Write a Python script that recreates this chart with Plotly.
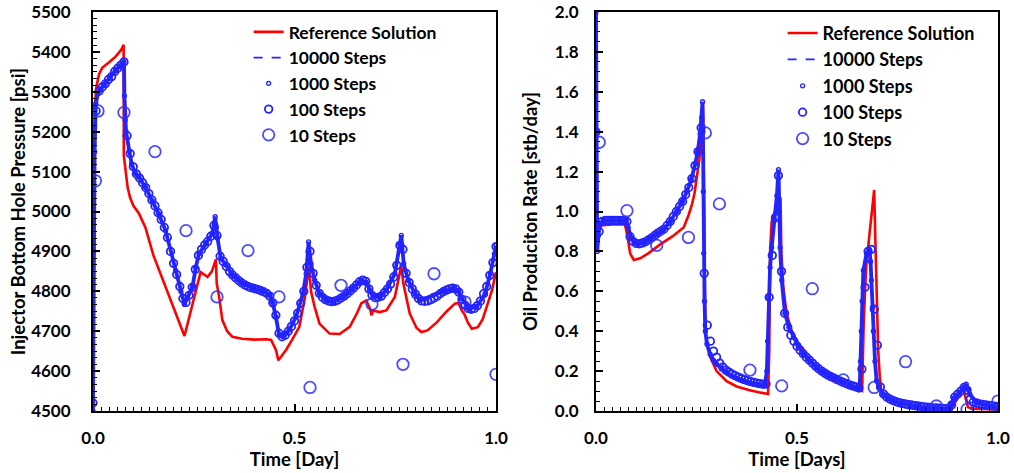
import plotly.graph_objects as go

# ---------------- shared time grid for the "100 Steps" series ----------------
T_GRID = [0.0, 0.0077, 0.0154, 0.0231, 0.0308, 0.0385, 0.0462, 0.0538, 0.0615, 0.0692,
          0.0769, 0.0846, 0.0923, 0.1, 0.1077, 0.1154, 0.1231, 0.1308, 0.1385, 0.1462,
          0.1538, 0.1615, 0.1692, 0.1769, 0.1846, 0.1923, 0.2, 0.2077, 0.2154, 0.2231,
          0.2308, 0.2385, 0.2462, 0.2538, 0.2615, 0.2692, 0.2769, 0.2846, 0.2923, 0.3,
          0.3077, 0.3154, 0.3231, 0.3308, 0.3385, 0.3462, 0.3538, 0.3615, 0.3692, 0.3769,
          0.3846, 0.3923, 0.4, 0.4077, 0.4154, 0.4231, 0.4308, 0.4385, 0.4462, 0.4538,
          0.4615, 0.4692, 0.4769, 0.4846, 0.4923, 0.5, 0.5077, 0.5154, 0.5231, 0.5308,
          0.5385, 0.5462, 0.5538, 0.5615, 0.5692, 0.5769, 0.5846, 0.5923, 0.6, 0.6077,
          0.6154, 0.6231, 0.6308, 0.6385, 0.6462, 0.6538, 0.6615, 0.6692, 0.6769, 0.6846,
          0.6923, 0.7, 0.7077, 0.7154, 0.7231, 0.7308, 0.7385, 0.7462, 0.7538, 0.7615,
          0.7692, 0.7769, 0.7846, 0.7923, 0.8, 0.8077, 0.8154, 0.8231, 0.8308, 0.8385,
          0.8462, 0.8538, 0.8615, 0.8692, 0.8769, 0.8846, 0.8923, 0.9, 0.9077, 0.9154,
          0.9231, 0.9308, 0.9385, 0.9462, 0.9538, 0.9615, 0.9692, 0.9769, 0.9846, 0.9923, 1.0]

# ---------------- LEFT: injector bottom hole pressure [psi] ----------------
L_REF_T = [0.0, 0.002, 0.005, 0.008, 0.015, 0.023, 0.04, 0.056, 0.07, 0.076,
           0.0765, 0.08, 0.086, 0.092, 0.1, 0.114, 0.13, 0.15, 0.18, 0.2,
           0.227, 0.245, 0.26, 0.267, 0.276, 0.284, 0.295, 0.305, 0.307, 0.313,
           0.321, 0.333, 0.346, 0.37, 0.4, 0.43, 0.442, 0.454, 0.46, 0.47,
           0.479, 0.495, 0.512, 0.525, 0.533, 0.536, 0.541, 0.55, 0.562, 0.587,
           0.612, 0.637, 0.655, 0.666, 0.678, 0.688, 0.691, 0.695, 0.711, 0.728,
           0.749, 0.758, 0.765, 0.77, 0.774, 0.786, 0.803, 0.815, 0.83, 0.853,
           0.878, 0.898, 0.907, 0.915, 0.922, 0.93, 0.94, 0.955, 0.967, 0.977,
           0.99, 1.0]
L_REF_P = [4500, 5150, 5270, 5310, 5344, 5360, 5374, 5388, 5405, 5418,
           5140, 5110, 5060, 5035, 5015, 4995, 4960, 4890, 4812, 4758,
           4688, 4760, 4820, 4848, 4842, 4836, 4850, 4880, 4820, 4786,
           4728, 4700, 4686, 4681, 4679, 4680, 4678, 4653, 4627, 4640,
           4653, 4680, 4711, 4780, 4844, 4862, 4800, 4761, 4719, 4694,
           4693, 4711, 4745, 4770, 4777, 4755, 4740, 4752, 4748, 4752,
           4786, 4830, 4865, 4820, 4802, 4744, 4708, 4698, 4702, 4722,
           4750, 4769, 4771, 4752, 4742, 4722, 4706, 4710, 4730, 4760,
           4802, 4848]

L_FINE_T = [0.0, 0.002, 0.004, 0.007, 0.012, 0.017, 0.03, 0.042, 0.055, 0.067,
            0.077, 0.078, 0.08, 0.082, 0.09, 0.096, 0.105, 0.114, 0.13, 0.147,
            0.163, 0.18, 0.205, 0.218, 0.227, 0.235, 0.247, 0.255, 0.263, 0.28,
            0.296, 0.303, 0.306, 0.309, 0.317, 0.33, 0.346, 0.371, 0.396, 0.421,
            0.438, 0.446, 0.454, 0.462, 0.471, 0.487, 0.504, 0.521, 0.529, 0.535,
            0.541, 0.55, 0.562, 0.579, 0.595, 0.62, 0.645, 0.666, 0.678, 0.686,
            0.695, 0.711, 0.728, 0.749, 0.761, 0.765, 0.771, 0.782, 0.799, 0.811,
            0.844, 0.869, 0.894, 0.907, 0.915, 0.932, 0.952, 0.973, 0.986, 0.996, 1.0]
L_FINE_P = [4500, 4900, 5150, 5270, 5295, 5304, 5319, 5336, 5352, 5365,
            5375, 5290, 5230, 5201, 5152, 5119, 5096, 5086, 5061, 5027,
            4994, 4952, 4852, 4800, 4767, 4785, 4811, 4860, 4894, 4919,
            4945, 4987, 4960, 4933, 4883, 4866, 4841, 4820, 4808, 4801,
            4791, 4771, 4735, 4690, 4686, 4703, 4736, 4794, 4844, 4924,
            4869, 4828, 4794, 4778, 4773, 4786, 4807, 4828, 4823, 4803,
            4786, 4786, 4803, 4844, 4919, 4940, 4869, 4828, 4794, 4777,
            4790, 4800, 4808, 4800, 4782, 4757, 4761, 4794, 4845, 4894, 4915]

L_100_P = [4520, 5252, 5302, 5312, 5320, 5331, 5338, 5351, 5359, 5367,
           5375, 5190, 5145, 5112, 5094, 5084, 5072, 5060, 5045, 5029,
           5014, 4997, 4980, 4960, 4935, 4900, 4870, 4842, 4812, 4782,
           4772, 4790, 4810, 4855, 4890, 4905, 4916, 4925, 4938, 4965,
           4940, 4888, 4875, 4862, 4850, 4841, 4834, 4827, 4821, 4816,
           4812, 4809, 4807, 4805, 4802, 4799, 4795, 4788, 4771, 4740,
           4695, 4686, 4690, 4700, 4712, 4726, 4745, 4770, 4800, 4860,
           4900, 4845, 4815, 4795, 4785, 4779, 4776, 4774, 4775, 4778,
           4783, 4788, 4794, 4801, 4808, 4816, 4824, 4828, 4825, 4806,
           4790, 4784, 4785, 4788, 4797, 4806, 4818, 4836, 4865, 4915,
           4905, 4845, 4822, 4806, 4793, 4782, 4776, 4775, 4776, 4779,
           4783, 4788, 4794, 4799, 4803, 4806, 4808, 4806, 4798, 4780,
           4765, 4757, 4755, 4757, 4764, 4776, 4794, 4812, 4840, 4872, 4912]

L_10_T = [0.006, 0.0125, 0.0769, 0.1538, 0.2308, 0.3077, 0.3846, 0.4615, 0.5385,
          0.6154, 0.6923, 0.7692, 0.8462, 0.9231, 1.0]
L_10_P = [5077, 5252, 5248, 5150, 4952, 4786, 4902, 4786, 4559,
          4815, 4768, 4617, 4844, 4773, 4592]

# ---------------- RIGHT: oil production rate [stb/day] ----------------
R_REF_T = [0.0, 0.003, 0.007, 0.012, 0.04, 0.072, 0.078, 0.085, 0.094, 0.11,
           0.13, 0.16, 0.19, 0.218, 0.23, 0.238, 0.245, 0.251, 0.257, 0.263,
           0.266, 0.268, 0.27, 0.272, 0.278, 0.284, 0.3, 0.325, 0.35, 0.38,
           0.41, 0.428, 0.431, 0.433, 0.437, 0.445, 0.452, 0.459, 0.461, 0.466,
           0.474, 0.487, 0.5, 0.516, 0.532, 0.55, 0.574, 0.595, 0.615, 0.635,
           0.656, 0.662, 0.666, 0.672, 0.68, 0.686, 0.692, 0.695, 0.698, 0.702,
           0.706, 0.71, 0.72, 0.731, 0.755, 0.781, 0.805, 0.83, 0.855, 0.88,
           0.89, 0.905, 0.913, 0.92, 0.925, 0.935, 0.96, 1.0]
R_REF_Q = [2.0, 0.8, 0.9, 0.93, 0.935, 0.935, 0.88, 0.79, 0.757, 0.765,
           0.79, 0.835, 0.875, 0.92, 0.98, 1.03, 1.09, 1.17, 1.26, 1.39,
           1.53, 1.2, 0.6, 0.4, 0.32, 0.27, 0.2, 0.15, 0.123, 0.105,
           0.092, 0.085, 0.3, 0.8, 0.95, 1.0, 1.04, 1.07, 0.8, 0.62,
           0.49, 0.4, 0.35, 0.3, 0.25, 0.21, 0.176, 0.153, 0.134, 0.118,
           0.104, 0.1, 0.45, 0.72, 0.88, 1.0, 1.108, 0.85, 0.57, 0.3,
           0.17, 0.1, 0.075, 0.059, 0.04, 0.025, 0.015, 0.008, 0.004, 0.003,
           0.03, 0.09, 0.118, 0.06, 0.02, 0.012, 0.01, 0.008]

R_FINE_T = [0.0, 0.0005, 0.001, 0.003, 0.006, 0.01, 0.02, 0.04, 0.06, 0.075,
            0.08, 0.087, 0.095, 0.102, 0.12, 0.135, 0.151, 0.168, 0.185, 0.201,
            0.215, 0.226, 0.237, 0.247, 0.253, 0.259, 0.263, 0.265, 0.266, 0.267,
            0.268, 0.27, 0.272, 0.276, 0.284, 0.292, 0.3, 0.312, 0.325, 0.345,
            0.367, 0.385, 0.4, 0.42, 0.425, 0.427, 0.429, 0.433, 0.437, 0.445,
            0.45, 0.454, 0.456, 0.458, 0.462, 0.47, 0.48, 0.491, 0.503, 0.516,
            0.532, 0.549, 0.565, 0.582, 0.6, 0.615, 0.632, 0.648, 0.656, 0.658,
            0.66, 0.662, 0.665, 0.673, 0.68, 0.683, 0.685, 0.688, 0.69, 0.694,
            0.698, 0.705, 0.714, 0.725, 0.739, 0.76, 0.781, 0.805, 0.83, 0.85,
            0.872, 0.88, 0.885, 0.89, 0.905, 0.915, 0.921, 0.925, 0.93, 0.946,
            0.97, 1.0]
R_FINE_Q = [2.0, 1.4, 1.0, 0.8, 0.88, 0.94, 0.955, 0.955, 0.955, 0.955,
            0.92, 0.87, 0.845, 0.838, 0.845, 0.865, 0.89, 0.91, 0.95, 1.0,
            1.05, 1.1, 1.16, 1.24, 1.3, 1.39, 1.47, 1.55, 1.4, 1.1,
            0.79, 0.55, 0.4, 0.336, 0.285, 0.255, 0.235, 0.212, 0.193, 0.17,
            0.151, 0.14, 0.134, 0.128, 0.2, 0.35, 0.57, 0.72, 0.82, 0.957,
            1.08, 1.21, 1.0, 0.82, 0.655, 0.49, 0.42, 0.37, 0.325, 0.285,
            0.25, 0.218, 0.195, 0.176, 0.158, 0.143, 0.13, 0.118, 0.112, 0.25,
            0.4, 0.55, 0.705, 0.79, 0.81, 0.75, 0.655, 0.52, 0.4, 0.25,
            0.151, 0.115, 0.084, 0.065, 0.05, 0.038, 0.03, 0.022, 0.017, 0.012,
            0.009, 0.012, 0.035, 0.065, 0.092, 0.118, 0.134, 0.11, 0.084, 0.042,
            0.03, 0.022]

R_100_Q = [1.4, 0.9, 0.95, 0.955, 0.955, 0.955, 0.955, 0.955, 0.955, 0.955,
           0.95, 0.875, 0.85, 0.84, 0.838, 0.842, 0.848, 0.858, 0.868, 0.88,
           0.892, 0.902, 0.912, 0.93, 0.95, 0.975, 1.0, 1.025, 1.05, 1.085,
           1.12, 1.165, 1.23, 1.3, 1.42, 0.69, 0.43, 0.35, 0.3, 0.27,
           0.24, 0.22, 0.205, 0.195, 0.185, 0.177, 0.17, 0.163, 0.157, 0.152,
           0.147, 0.143, 0.14, 0.137, 0.134, 0.135, 0.57, 0.78, 0.97, 1.18,
           0.7, 0.49, 0.42, 0.38, 0.35, 0.325, 0.305, 0.287, 0.27, 0.255,
           0.24, 0.225, 0.212, 0.2, 0.19, 0.18, 0.172, 0.165, 0.157, 0.15,
           0.143, 0.137, 0.131, 0.126, 0.121, 0.115, 0.21, 0.62, 0.8, 0.81,
           0.51, 0.33, 0.12, 0.085, 0.07, 0.06, 0.053, 0.047, 0.042, 0.038,
           0.035, 0.032, 0.03, 0.027, 0.025, 0.023, 0.021, 0.019, 0.018, 0.016,
           0.015, 0.014, 0.013, 0.012, 0.011, 0.03, 0.07, 0.085, 0.1, 0.118,
           0.105, 0.06, 0.045, 0.04, 0.036, 0.033, 0.03, 0.028, 0.026, 0.024, 0.022]

R_10_T = [0.008, 0.077, 0.151, 0.23, 0.272, 0.307, 0.383, 0.462, 0.538,
          0.615, 0.692, 0.77, 0.847, 0.923, 1.0]
R_10_Q = [1.347, 1.004, 0.83, 0.87, 1.394, 1.038, 0.205, 0.126, 0.613,
          0.156, 0.118, 0.247, 0.025, 0.008, 0.05]

NAMES = ["Reference Solution", "10000 Steps", "1000 Steps", "100 Steps", "10 Steps"]

RED = "#FF0000"
BLUE = "#2424FF"
BLUE_BIG = "rgba(45,45,255,0.85)"
FONT = "Lato"

fig = go.Figure()


def add_series(xa, ya, leg, ref_t, ref_v, fine_t, fine_v, grid_v, big_t, big_v):
    fig.add_trace(go.Scatter(x=ref_t, y=ref_v, mode="lines", name=NAMES[0],
                             line=dict(color=RED, width=2.6), xaxis=xa, yaxis=ya,
                             legend=leg, legendgroup=leg + "a"))
    fig.add_trace(go.Scatter(x=fine_t, y=fine_v, mode="lines", name=NAMES[1],
                             line=dict(color=BLUE, width=1.6, dash="dash"), xaxis=xa, yaxis=ya,
                             legend=leg, legendgroup=leg + "b"))
    # dense 1000-step markers overlap into a continuous band: drawn as a band + markers
    fig.add_trace(go.Scatter(x=fine_t, y=fine_v, mode="lines", showlegend=False,
                             line=dict(color=BLUE, width=3.8), xaxis=xa, yaxis=ya,
                             legend=leg, legendgroup=leg + "c", hoverinfo="skip"))
    fig.add_trace(go.Scatter(x=fine_t, y=fine_v, mode="markers", name=NAMES[2],
                             marker=dict(symbol="circle-open", size=4, color=BLUE,
                                         line=dict(width=1.3, color=BLUE)),
                             xaxis=xa, yaxis=ya, legend=leg, legendgroup=leg + "c"))
    fig.add_trace(go.Scatter(x=T_GRID, y=grid_v, mode="markers", name=NAMES[3],
                             marker=dict(symbol="circle-open", size=7.5, color=BLUE,
                                         line=dict(width=1.8, color=BLUE)),
                             xaxis=xa, yaxis=ya, legend=leg, legendgroup=leg + "d"))
    fig.add_trace(go.Scatter(x=big_t, y=big_v, mode="markers", name=NAMES[4],
                             marker=dict(symbol="circle-open", size=11.5, color=BLUE_BIG,
                                         line=dict(width=1.8, color=BLUE_BIG)),
                             xaxis=xa, yaxis=ya, legend=leg, legendgroup=leg + "e"))


add_series("x", "y", "legend", L_REF_T, L_REF_P, L_FINE_T, L_FINE_P, L_100_P, L_10_T, L_10_P)
add_series("x2", "y2", "legend2", R_REF_T, R_REF_Q, R_FINE_T, R_FINE_Q, R_100_Q, R_10_T, R_10_Q)

tickfont = dict(family=FONT, size=17, color="black", weight="bold")
titlefont = dict(family=FONT, size=18.5, color="black", weight="bold")
legfont_l = dict(family=FONT, size=17.5, color="black", weight="bold")
legfont_r = dict(family=FONT, size=18, color="black", weight="bold")

common_axis = dict(showline=True, linecolor="black", linewidth=2, mirror=True,
                   showgrid=False, zeroline=False, ticks="inside", ticklen=7,
                   tickwidth=1.5, tickcolor="black", tickfont=tickfont, automargin=False)

xcommon = dict(common_axis, range=[0, 1], dtick=0.5, tick0=0, tickformat=".1f",
               ticklabelstandoff=11,
               minor=dict(dtick=0.02, ticks="inside", ticklen=4, tickcolor="black", tickwidth=1.2))

# plot area: x 93..998 px, y 12..411 px
fig.update_layout(
    width=1014, height=473,
    margin=dict(l=93, r=16, t=12, b=62),
    paper_bgcolor="white", plot_bgcolor="white",
    font=dict(family=FONT, color="black"),
    showlegend=True,
    xaxis=dict(xcommon, domain=[0.0, 0.4453], anchor="y",
               title=dict(text="Time [Day]", font=titlefont, standoff=2)),
    yaxis=dict(common_axis, domain=[0.0, 1.0], anchor="x", range=[4500, 5500],
               dtick=100, ticklabelstandoff=17,
               minor=dict(dtick=100 / 6, tick0=4500, ticks="inside", ticklen=4,
                          tickcolor="black", tickwidth=1.2),
               title=dict(text="Injector Bottom Hole Pressure [psi]", font=titlefont, standoff=1)),
    xaxis2=dict(xcommon, domain=[0.5558, 1.0], anchor="y2",
                title=dict(text="Time [Days]", font=titlefont, standoff=2)),
    yaxis2=dict(common_axis, domain=[0.0, 1.0], anchor="x2", range=[0, 2],
                dtick=0.2, tickformat=".1f", ticklabelstandoff=12,
                minor=dict(dtick=0.05, ticks="inside", ticklen=4, tickcolor="black", tickwidth=1.2),
                title=dict(text="Oil Produciton Rate [stb/day]", font=titlefont, standoff=12)),
    legend=dict(x=0.172, y=0.995, xanchor="left", yanchor="top", bgcolor="rgba(0,0,0,0)",
                font=legfont_l, tracegroupgap=0, itemwidth=30),
    legend2=dict(x=0.762, y=0.993, xanchor="left", yanchor="top", bgcolor="rgba(0,0,0,0)",
                 font=legfont_r, tracegroupgap=0, itemwidth=30),
)

fig.write_html("out.html")
